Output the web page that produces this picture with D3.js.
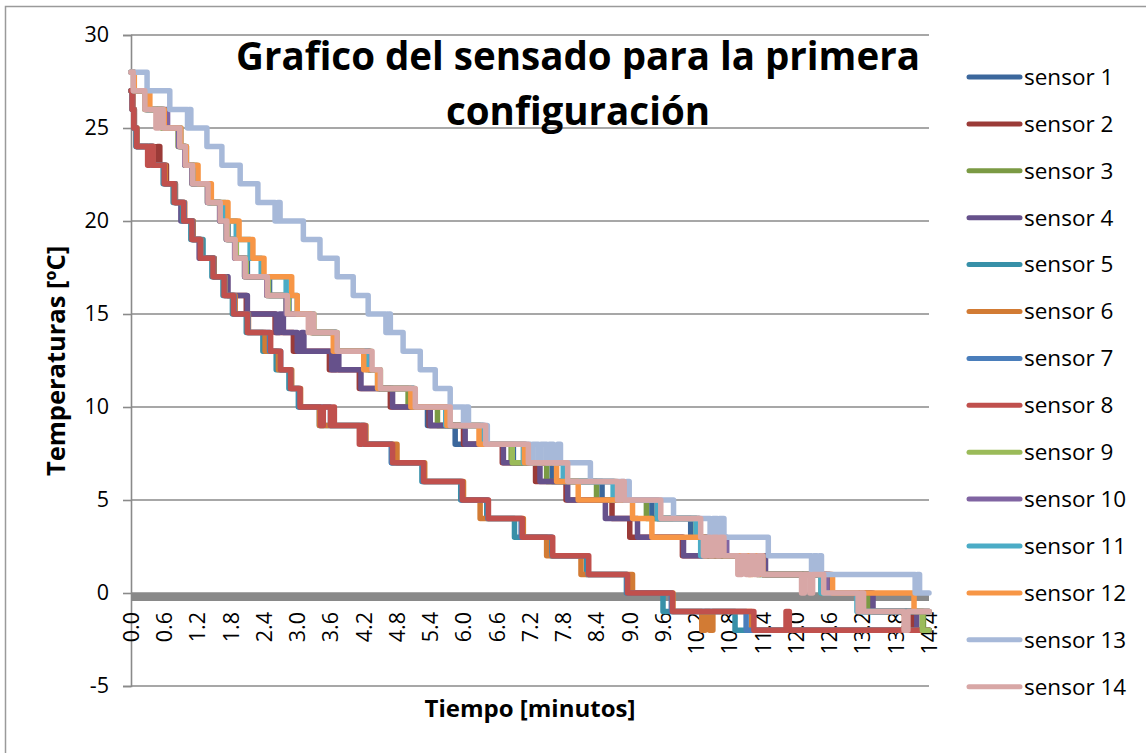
<!DOCTYPE html>
<html>
<head>
<meta charset="utf-8">
<script src="https://cdn.jsdelivr.net/npm/d3@7"></script>
<style>
  body { margin: 0; background: #fff; }
  svg { display: block; }
  text { font-family: "Open Sans", "DejaVu Sans", sans-serif; fill: #000; }
</style>
</head>
<body>
<svg id="chart" width="1146" height="753"></svg>
<script>
// Category labels along the time axis (minutes) and temperature ticks (ºC)
const timeTicks = ["0.0","0.6","1.2","1.8","2.4","3.0","3.6","4.2","4.8","5.4","6.0","6.6","7.2",
                   "7.8","8.4","9.0","9.6","10.2","10.8","11.4","12.0","12.6","13.2","13.8","14.4"];
const tempTicks = [30, 25, 20, 15, 10, 5, 0, -5];

const sensorNames = ["sensor 1","sensor 2","sensor 3","sensor 4","sensor 5","sensor 6","sensor 7",
                     "sensor 8","sensor 9","sensor 10","sensor 11","sensor 12","sensor 13","sensor 14"];
const sensorColors = ["#3B679C","#9B3B38","#7B9A44","#66518B","#3790A8","#D27B34","#4A7EBB",
                      "#C0504D","#9BBB59","#8064A2","#4BACC6","#F79646","#A7B9D9","#D8A7A6"];

// Each reading: [minute at which the value starts, temperature ºC]
const sensor1 = [[0,28],[0.05,27],[0.28,26],[0.58,25],[0.88,24],[0.98,23],[1.12,22],[1.4,21],[1.62,20],[1.75,19],
  [1.9,18],[2.1,17],[2.5,16],[2.85,15],[3.28,14],[3.7,13],[4.3,12],[4.48,11],[5.1,10],[5.35,9],[5.85,8],[6.9,7],
  [7.6,6],[8.5,5],[9.4,4],[10.1,3],[10.6,2],[11.4,1],[12.5,0],[13.2,-1],[14.4,-1]];
const sensor2 = [[0,27],[0.03,26],[0.06,25],[0.1,24],[0.42,23],[0.48,24],[0.52,23],[0.64,22],[0.8,21],[0.96,20],
  [1.12,19],[1.25,18],[1.5,17],[1.74,16],[2.08,15],[2.6,14],[2.93,13],[3.58,12],[4.12,11],[4.68,10],[5.38,9],
  [6.0,8],[6.7,7],[7.3,6],[7.85,5],[8.68,4],[9.0,3],[9.95,2],[11.4,1],[12.6,0],[13.35,-1],[14.1,-2],[14.4,-2]];
const sensor3 = [[0,27],[0.25,26],[0.55,25],[0.85,24],[0.97,23],[1.1,22],[1.38,21],[1.6,20],[1.72,19],[1.88,18],
  [2.05,17],[2.45,16],[2.8,15],[3.25,14],[3.7,13],[4.3,12],[4.48,11],[5.0,10],[5.53,9],[6.3,8],[6.86,7],[7.5,6],
  [8.4,5],[9.3,4],[10.2,3],[10.7,2],[11.35,1],[12.45,0],[13.3,-1],[14.3,-2],[14.4,-2]];
const sensor4 = [[0,27],[0.03,26],[0.06,25],[0.1,24],[0.4,23],[0.62,22],[0.8,21],[0.9,20],[1.1,19],[1.23,18],
  [1.5,17],[1.75,16],[2.1,15],[2.62,14],[2.68,15],[2.75,14],[3.0,13],[3.08,14],[3.12,13],[3.62,12],[3.7,13],
  [3.75,12],[4.15,11],[4.72,10],[5.4,9],[6.03,8],[6.72,7],[7.38,6],[7.88,5],[8.56,4],[9.14,3],[9.97,2],[11.45,1],
  [12.63,0],[13.39,-1],[14.18,-2],[14.4,-2]];
const sensor5 = [[0,27],[0.02,26],[0.05,25],[0.09,24],[0.38,23],[0.58,22],[0.76,21],[0.93,20],[1.08,19],[1.3,18],
  [1.46,17],[1.66,16],[1.83,15],[2.08,14],[2.38,13],[2.62,12],[2.85,11],[3.02,10],[3.4,9],[4.2,8],[4.7,7],[5.25,6],
  [5.95,5],[6.42,4],[6.92,3],[7.58,2],[8.22,1],[8.94,0],[9.6,-1],[10.9,-2],[14.4,-2]];
const sensor6 = [[0,27],[0.03,26],[0.06,25],[0.11,24],[0.4,23],[0.62,22],[0.8,21],[0.97,20],[1.12,19],[1.27,18],
  [1.5,17],[1.7,16],[1.88,15],[2.12,14],[2.42,13],[2.66,12],[2.9,11],[3.06,10],[3.4,9],[4.24,8],[4.8,7],[5.3,6],
  [6.0,5],[6.3,4],[7.08,3],[7.5,2],[8.12,1],[9.05,0],[9.78,-1],[10.3,-2],[10.36,-1],[10.44,-2],[10.5,-1],
  [11.2,-2],[14.4,-2]];
const sensor7 = [[0,27],[0.02,26],[0.05,25],[0.1,24],[0.39,23],[0.6,22],[0.79,21],[0.96,20],[1.11,19],[1.26,18],
  [1.49,17],[1.69,16],[1.86,15],[2.11,14],[2.5,13],[2.7,12],[2.88,11],[3.04,10],[3.6,9],[4.22,8],[4.7,7],[5.27,6],
  [5.97,5],[6.44,4],[7.04,3],[7.6,2],[8.25,1],[8.95,0],[9.75,-1],[11.1,-2],[14.4,-2]];
const sensor8 = [[0,27],[0.02,26],[0.05,25],[0.1,24],[0.3,23],[0.34,24],[0.4,23],[0.6,22],[0.78,21],[0.95,20],
  [1.1,19],[1.25,18],[1.48,17],[1.68,16],[1.85,15],[2.1,14],[2.52,13],[2.7,12],[2.88,11],[3.05,10],[3.42,9],
  [3.47,10],[3.6,9],[3.64,10],[3.67,9],[4.12,8],[4.16,9],[4.22,8],[4.72,7],[5.28,6],[5.98,5],[6.45,4],[7.06,3],
  [7.61,2],[8.26,1],[8.96,0],[9.77,-1],[11.24,-2],[11.82,-1],[11.88,-2],[14.4,-2]];
const sensor9 = [[0,28],[0.05,27],[0.27,26],[0.57,25],[0.87,24],[0.98,23],[1.12,22],[1.4,21],[1.62,20],[1.74,19],
  [1.9,18],[2.08,17],[2.48,16],[2.84,15],[3.3,14],[3.72,13],[4.33,12],[4.5,11],[5.12,10],[5.75,9],[6.35,8],
  [6.88,7],[7.85,6],[8.75,5],[9.5,4],[10.25,3],[10.7,2],[11.4,1],[12.5,0],[13.15,-1],[14.28,-2],[14.4,-2]];
const sensor10 = [[0,28],[0.05,27],[0.27,26],[0.66,25],[0.86,24],[0.97,23],[1.1,22],[1.38,21],[1.6,20],[1.72,19],
  [1.87,18],[2.05,17],[2.45,16],[2.8,15],[3.26,14],[3.7,13],[4.3,12],[4.48,11],[5.1,10],[5.72,9],[6.38,8],
  [7.12,7],[7.85,6],[8.72,5],[9.5,4],[10.25,3],[10.75,2],[11.4,1],[12.55,0],[13.2,-1],[14.4,-1]];
const sensor11 = [[0,28],[0.05,27],[0.3,26],[0.6,25],[0.9,24],[1.0,23],[1.18,22],[1.42,21],[1.7,20],[1.9,19],
  [2.15,18],[2.35,17],[2.8,16],[3.0,15],[3.28,14],[3.68,13],[4.25,12],[4.45,11],[5.1,10],[5.68,9],[6.35,8],
  [7.08,7],[7.8,6],[8.7,5],[9.5,4],[10.2,3],[10.28,2],[11.3,1],[12.45,0],[13.1,-1],[14.4,-1]];
const sensor12 = [[0,28],[0.06,27],[0.34,26],[0.6,25],[0.9,24],[1.0,23],[1.21,22],[1.45,21],[1.75,20],[1.95,19],
  [2.2,18],[2.4,17],[2.9,16],[3.0,15],[3.25,14],[3.65,13],[4.2,12],[4.45,11],[5.05,10],[5.7,9],[6.28,8],[7.1,7],
  [7.68,6],[8.07,5],[9.05,4],[9.4,3],[10.35,2],[11.15,1],[11.22,2],[11.3,1],[11.35,2],[11.4,1],[12.66,0],
  [14.13,-1],[14.4,-1]];
const sensor13 = [[0,28],[0.29,27],[0.7,26],[1.02,25],[1.05,26],[1.08,25],[1.37,24],[1.64,23],[1.97,22],[2.29,21],
  [2.6,20],[2.65,21],[2.69,20],[3.11,19],[3.41,18],[3.72,17],[4.01,16],[4.28,15],[4.6,14],[4.65,15],[4.68,14],
  [4.91,13],[5.22,12],[5.49,11],[5.76,10],[6.0,9],[6.05,10],[6.09,9],[6.43,8],[7.21,7],[7.25,8],[7.35,7],
  [7.4,8],[7.5,7],[7.55,8],[7.62,7],[7.7,8],[7.75,7],[8.29,6],[8.9,5],[8.95,6],[8.99,5],[9.79,4],[10.45,3],
  [10.5,4],[10.58,3],[10.62,4],[10.7,3],[11.5,2],[12.28,1],[12.32,2],[12.38,1],[12.42,2],[12.46,1],[14.15,0],
  [14.19,1],[14.23,0],[14.4,0]];
const sensor14 = [[0,28],[0.04,27],[0.25,26],[0.45,25],[0.5,26],[0.58,25],[0.88,24],[0.98,23],[1.11,22],[1.39,21],
  [1.61,20],[1.73,19],[1.88,18],[2.06,17],[2.46,16],[2.82,15],[3.2,14],[3.25,15],[3.3,14],[3.72,13],[4.35,12],
  [4.5,11],[5.13,10],[5.76,9],[6.4,8],[7.17,7],[7.88,6],[8.78,5],[8.85,6],[8.9,5],[9.56,4],[10.28,3],[10.33,2],
  [10.38,3],[10.45,2],[10.5,3],[10.58,2],[10.63,3],[10.7,2],[10.95,1],[11.02,2],[11.1,1],[11.18,2],[11.25,1],
  [11.32,2],[11.4,1],[12.1,0],[12.15,1],[12.25,0],[12.3,1],[12.5,0],[13.12,-1],[13.16,0],[13.22,-1],[13.95,-2],
  [14.02,-1],[14.4,-1]];

const sensors = [sensor1, sensor2, sensor3, sensor4, sensor5, sensor6, sensor7,
                 sensor8, sensor9, sensor10, sensor11, sensor12, sensor13, sensor14];

const svg = d3.select("#chart");
const gridGray = "#8a8a8a";

// Chart frame
svg.append("rect")
  .attr("x", 5.5).attr("y", 6.5).attr("width", 1160).attr("height", 770)
  .attr("fill", "#fff").attr("stroke", "#9a9a9a").attr("stroke-width", 1.5);

const x = d3.scaleLinear().domain([0, 14.4]).range([131, 929]);
const y = d3.scaleLinear().domain([-5, 30]).range([686, 35]);

// Horizontal gridlines
svg.append("g").selectAll("line").data(tempTicks).join("line")
  .attr("x1", x(0)).attr("x2", x(14.4))
  .attr("y1", d => y(d)).attr("y2", d => y(d))
  .attr("stroke", gridGray).attr("stroke-width", 1.6);

// Vertical value axis
const yAxis = svg.append("g").attr("transform", `translate(${x(0)},0)`)
  .call(d3.axisLeft(y).tickValues(tempTicks).tickSize(8).tickPadding(14).tickFormat(d => String(d)));
yAxis.select(".domain").attr("stroke", gridGray).attr("stroke-width", 1.6);
yAxis.selectAll(".tick line").attr("stroke", gridGray).attr("stroke-width", 1.6);
yAxis.selectAll(".tick text").style("font-size", "21.5px").style("font-family", '"Open Sans", sans-serif')
  .attr("fill", "#000");

// Thick category axis line at 0 ºC
svg.append("line")
  .attr("x1", x(0)).attr("x2", x(14.4))
  .attr("y1", y(0) + 4).attr("y2", y(0) + 4)
  .attr("stroke", "#898989").attr("stroke-width", 8);

// Rotated time labels
svg.append("g").selectAll("text").data(timeTicks).join("text")
  .attr("transform", d => `translate(${x(+d)},${y(0) + 19}) rotate(-90)`)
  .attr("text-anchor", "end").attr("dy", "0.36em")
  .style("font-size", "21.5px")
  .text(d => d);

// Sensor lines
const line = d3.line().x(d => x(d[0])).y(d => y(d[1])).curve(d3.curveStepAfter);
svg.append("g").selectAll("path").data(sensors).join("path")
  .attr("d", line)
  .attr("fill", "none")
  .attr("stroke", (d, i) => sensorColors[i])
  .attr("stroke-width", 5.5)
  .attr("stroke-linejoin", "round")
  .attr("stroke-linecap", "round");

// Title
const title = svg.append("text").attr("text-anchor", "middle")
  .style("font-size", "38.5px").style("font-weight", "bold");
title.append("tspan").attr("x", 578).attr("y", 70).text("Grafico del sensado para la primera");
title.append("tspan").attr("x", 578).attr("y", 125).text("configuración");

// Axis titles
svg.append("text").attr("text-anchor", "middle")
  .attr("transform", "translate(65,361) rotate(-90)")
  .style("font-size", "25.5px").style("font-weight", "bold")
  .text("Temperaturas [ºC]");
svg.append("text").attr("text-anchor", "middle")
  .attr("x", 530).attr("y", 717)
  .style("font-size", "24px").style("font-weight", "bold")
  .text("Tiempo [minutos]");

// Legend
const legend = svg.append("g").selectAll("g").data(sensorNames).join("g")
  .attr("transform", (d, i) => `translate(0,${77 + i * 46.9})`);
legend.append("line")
  .attr("x1", 969).attr("x2", 1020).attr("y1", 0).attr("y2", 0)
  .attr("stroke", (d, i) => sensorColors[i])
  .attr("stroke-width", 5).attr("stroke-linecap", "round");
legend.append("text")
  .attr("x", 1024).attr("dy", "0.35em")
  .style("font-size", "22.5px")
  .text(d => d);
</script>
</body>
</html>
